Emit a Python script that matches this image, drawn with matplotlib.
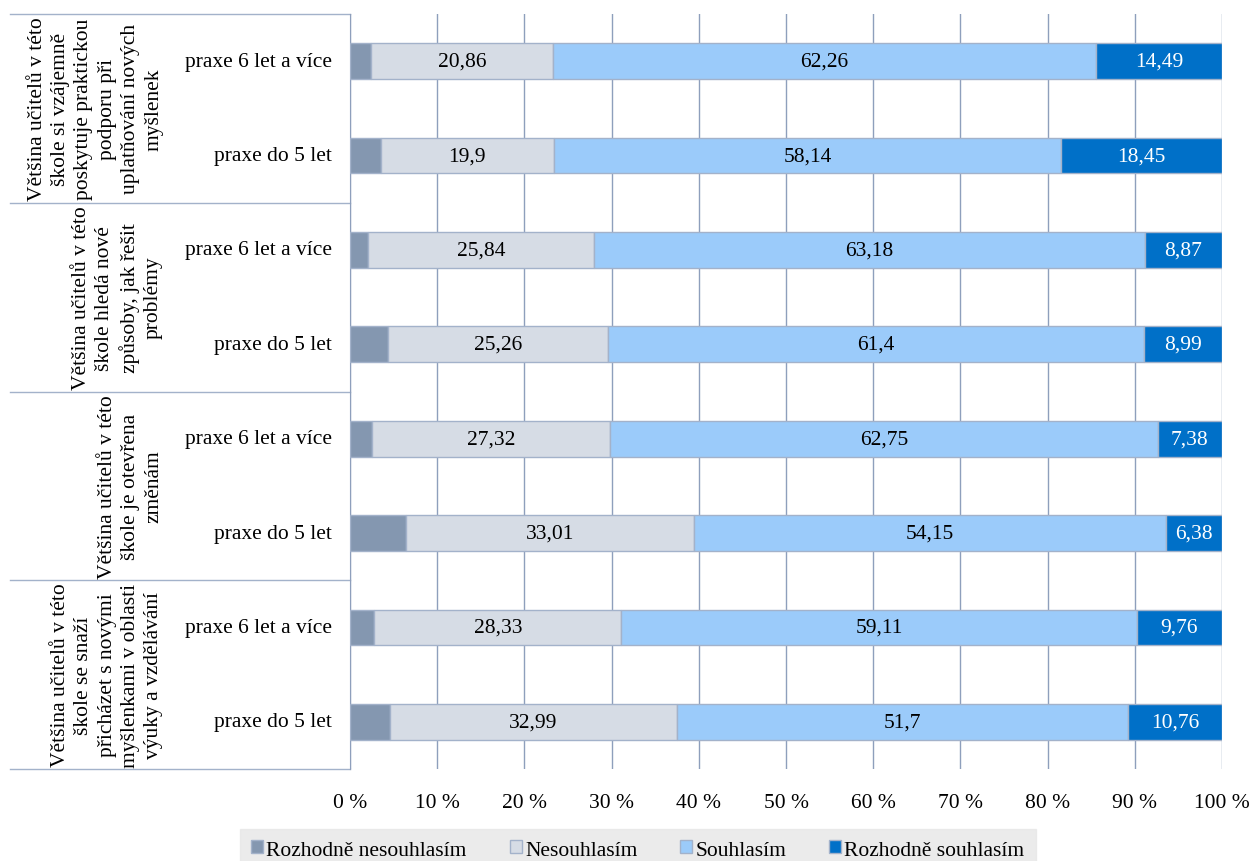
import matplotlib.pyplot as plt
from matplotlib.transforms import blended_transform_factory

plt.rcParams['font.family'] = ['Liberation Serif', 'DejaVu Serif']

# data, top to bottom
groups = [
    'Většina učitelů v této\nškole si vzájemně\nposkytuje praktickou\npodporu při\nuplatňování nových\nmyšlenek',
    'Většina učitelů v této\nškole hledá nové\nzpůsoby, jak řešit\nproblémy',
    'Většina učitelů v této\nškole je otevřena\nzměnám',
    'Většina učitelů v této\nškole se snaží\npřicházet s novými\nmyšlenkami v oblasti\nvýuky a vzdělávání',
]
subgroups = ['praxe 6 let a více', 'praxe do 5 let']
series = ['Rozhodně nesouhlasím', 'Nesouhlasím', 'Souhlasím', 'Rozhodně souhlasím']
rozhodne_nesouhlasim = [2.39, 3.51, 2.11, 4.35, 2.55, 6.46, 2.8, 4.55]
nesouhlasim = [20.86, 19.9, 25.84, 25.26, 27.32, 33.01, 28.33, 32.99]
souhlasim = [62.26, 58.14, 63.18, 61.4, 62.75, 54.15, 59.11, 51.7]
rozhodne_souhlasim = [14.49, 18.45, 8.87, 8.99, 7.38, 6.38, 9.76, 10.76]
colors = ['#8497B0', '#D6DCE5', '#9BCBFA', '#0070C8']
label_colors = [None, 'black', 'black', 'white']

values = [rozhodne_nesouhlasim, nesouhlasim, souhlasim, rozhodne_souhlasim]
fs = 15.5

fig = plt.figure(figsize=(12.52, 8.62), dpi=100)
ax = fig.add_axes([350 / 1252, 1 - 770 / 862, 872 / 1252, 755 / 862])

n = len(nesouhlasim)
ypos = list(range(n))
left = [0.0] * n
for vals, col, name, lc in zip(values, colors, series, label_colors):
    bars = ax.barh(ypos, vals, left=left, height=0.38, color=col,
                   edgecolor='#A3B2CA', linewidth=1, label=name, zorder=3)
    if lc is not None:
        labels = [str(v).replace('.', ',') for v in vals]
        ax.bar_label(bars, labels=labels, label_type='center', color=lc,
                     fontsize=fs)
    left = [a + b for a, b in zip(left, vals)]

ax.set_xlim(0, 100)
ax.set_ylim(n - 0.5, -0.5)
ax.set_xticks(range(0, 101, 10))
ax.set_xticklabels([f'{t} %' for t in range(0, 101, 10)], fontsize=fs)
ax.tick_params(axis='x', length=0, pad=17)
ax.set_yticks([])
ax.grid(axis='x', color='#8E9FBC', linewidth=1, zorder=0)
for s in ['top', 'right', 'bottom']:
    ax.spines[s].set_visible(False)
ax.spines['left'].set_color('#8E9FBC')

# two-level category labels on the left
trans = blended_transform_factory(ax.transAxes, ax.transData)
x_left = (10 - 350) / 872
for b in [-0.5, 1.5, 3.5, 5.5, 7.5]:
    ax.plot([x_left, 0], [b, b], color='#A3B2CA', linewidth=1,
            transform=trans, clip_on=False)
for i, y in enumerate(ypos):
    ax.text((332 - 350) / 872, y, subgroups[i % 2], transform=trans,
            ha='right', va='center', fontsize=fs)
for g, name in enumerate(groups):
    ax.text((163 - 350) / 872, 2 * g + 0.5, name, transform=trans,
            rotation=90, ha='right', va='center', multialignment='center',
            fontsize=fs, linespacing=1.3)

leg = fig.legend(loc='lower center', bbox_to_anchor=(638 / 1252, -0.012), ncol=4,
                 fontsize=fs, frameon=True, fancybox=False,
                 handlelength=0.55, handleheight=0.55, handletextpad=0.15,
                 columnspacing=2.0, borderpad=0.55, borderaxespad=0)
leg.get_frame().set_facecolor('#E7E7E7')
leg.get_frame().set_edgecolor('#E7E7E7')
for h in leg.legend_handles:
    h.set_edgecolor('#A3B2CA')

plt.savefig('out.png', dpi=100)
